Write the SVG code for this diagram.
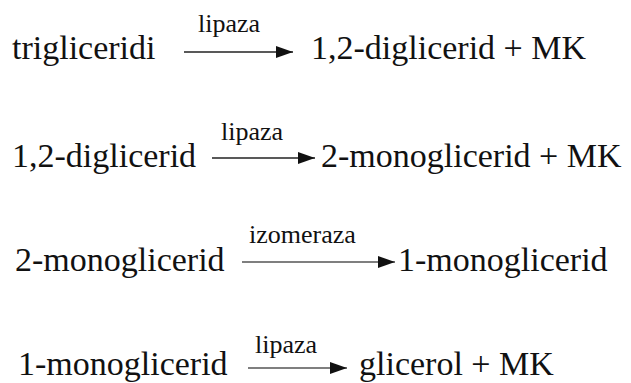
<svg xmlns="http://www.w3.org/2000/svg" width="631" height="383" viewBox="0 0 631 383">
<style>
text{font-family:'Liberation Serif','Times New Roman',serif;fill:#111}
.t{font-size:34px}
.l{font-size:26px}
.a{stroke:#222;stroke-width:1.6;fill:none;marker-end:url(#ah)}
.g{stroke:#555}
</style>
<defs>
<marker id="ah" markerUnits="userSpaceOnUse" markerWidth="18" markerHeight="14" refX="17" refY="7" orient="auto">
<path d="M0,1 L17,7 L0,13 Z" fill="#111"/>
</marker>
</defs>
<rect width="631" height="383" fill="#fff"/>
<g id="connectors">
<line class="a" x1="184" y1="52" x2="293" y2="52"/>
<line class="a" x1="212" y1="158" x2="315" y2="158"/>
<line class="a g" x1="242" y1="262" x2="395" y2="262"/>
<line class="a g" x1="248" y1="368" x2="347" y2="368"/>
</g>
<g id="r1">
<text class="t" x="12" y="59">trigliceridi</text>
<text class="l" x="198" y="32">lipaza</text>
<text class="t" x="311" y="59">1,2-diglicerid + MK</text>
</g>
<g id="r2">
<text class="t" x="12" y="167">1,2-diglicerid</text>
<text class="l" x="221" y="140">lipaza</text>
<text class="t" x="321" y="167">2-monoglicerid + MK</text>
</g>
<g id="r3">
<text class="t" x="15" y="271">2-monoglicerid</text>
<text class="l" x="249" y="243">izomeraza</text>
<text class="t" x="398" y="271">1-monoglicerid</text>
</g>
<g id="r4">
<text class="t" x="18" y="375">1-monoglicerid</text>
<text class="l" x="255" y="353">lipaza</text>
<text class="t" x="359" y="375">glicerol + MK</text>
</g>
</svg>
